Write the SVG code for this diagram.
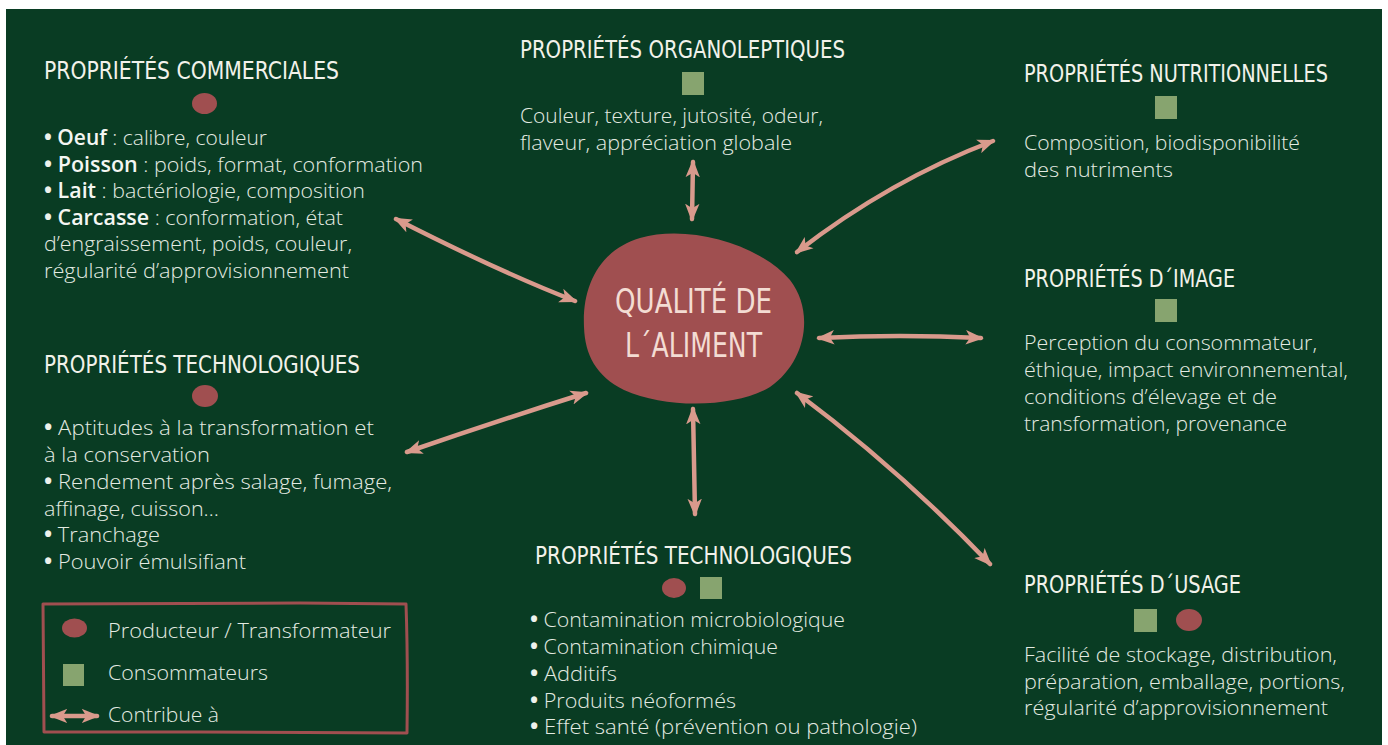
<svg xmlns="http://www.w3.org/2000/svg" width="1388" height="745" viewBox="0 0 1388 745">
<style>
.title{font-family:"Liberation Sans Narrow","DejaVu Sans Condensed","Liberation Sans",sans-serif;font-size:25px;fill:#f2f2ea;}
.body{font-family:"Open Sans","Lato","Liberation Sans",sans-serif;font-weight:300;font-size:21px;fill:#e4ebe2;}
.body .b{font-weight:600;fill:#f4f6f2;}
.body .bu{font-weight:700;fill:#eef2ec;}
.center{font-family:"Liberation Sans Narrow","DejaVu Sans Condensed","Liberation Sans",sans-serif;font-size:33px;fill:#f3dcd3;}
.dot{fill:#a04f50;}
.sq{fill:#87a46f;}
.conn{fill:none;stroke:#d99a8c;stroke-width:4.5;stroke-linecap:round;marker-start:url(#ah);marker-end:url(#ah);}
</style>
<defs>
<marker id="ah" viewBox="0 0 20 16" refX="17" refY="8" markerWidth="18" markerHeight="15" markerUnits="userSpaceOnUse" orient="auto-start-reverse">
<path d="M0,0 L20,8 L0,16 L5,8 Z" fill="#d99a8c"/>
</marker>
</defs>
<rect x="0" y="0" width="1388" height="745" fill="#ffffff"/>
<rect x="6" y="9" width="1376" height="736" fill="#093c23"/>

<g id="connectors">
<path class="conn" d="M396,219 Q500,272 575,301"/>
<path class="conn" d="M407,452 Q500,420 586,393"/>
<path class="conn" d="M693,162 L692,219"/>
<path class="conn" d="M797,252 Q890,180 993,141"/>
<path class="conn" d="M819,338 Q900,334 981,338"/>
<path class="conn" d="M797,393 Q900,470 990,564"/>
<path class="conn" d="M693,409 L695,514"/>
</g>

<g id="center">
<path d="M584,327 C582,285 600,250 640,238 C690,224 760,245 790,280 C815,312 806,362 770,387 C738,407 668,410 624,390 C596,376 585,355 584,327 Z" fill="#a04f50"/>
<text class="center" x="615" y="313" textLength="157" lengthAdjust="spacingAndGlyphs">QUALITÉ DE</text>
<text class="center" x="625" y="357" textLength="137" lengthAdjust="spacingAndGlyphs">L´ALIMENT</text>
</g>

<g id="commerciales">
<text class="title" x="44" y="79" textLength="295" lengthAdjust="spacingAndGlyphs">PROPRIÉTÉS COMMERCIALES</text>
<ellipse class="dot" cx="204.5" cy="103.5" rx="12.5" ry="10.5"/>
<text class="body" x="44" y="145" textLength="223" lengthAdjust="spacingAndGlyphs"><tspan class="bu">•</tspan> <tspan class="b">Oeuf</tspan> : calibre, couleur</text>
<text class="body" x="44" y="171.5" textLength="379" lengthAdjust="spacingAndGlyphs"><tspan class="bu">•</tspan> <tspan class="b">Poisson</tspan> : poids, format, conformation</text>
<text class="body" x="44" y="198" textLength="321" lengthAdjust="spacingAndGlyphs"><tspan class="bu">•</tspan> <tspan class="b">Lait</tspan> : bactériologie, composition</text>
<text class="body" x="44" y="224.5" textLength="299" lengthAdjust="spacingAndGlyphs"><tspan class="bu">•</tspan> <tspan class="b">Carcasse</tspan> : conformation, état</text>
<text class="body" x="44" y="251" textLength="308" lengthAdjust="spacingAndGlyphs">d’engraissement, poids, couleur,</text>
<text class="body" x="44" y="277.5" textLength="305" lengthAdjust="spacingAndGlyphs">régularité d’approvisionnement</text>
</g>

<g id="organoleptiques">
<text class="title" x="520" y="58" textLength="325" lengthAdjust="spacingAndGlyphs">PROPRIÉTÉS ORGANOLEPTIQUES</text>
<rect class="sq" x="682" y="72" width="22" height="23"/>
<text class="body" x="520" y="122.5" textLength="303" lengthAdjust="spacingAndGlyphs">Couleur, texture, jutosité, odeur,</text>
<text class="body" x="520" y="150" textLength="272" lengthAdjust="spacingAndGlyphs">flaveur, appréciation globale</text>
</g>

<g id="nutritionnelles">
<text class="title" x="1024" y="82" textLength="304" lengthAdjust="spacingAndGlyphs">PROPRIÉTÉS NUTRITIONNELLES</text>
<rect class="sq" x="1155" y="96" width="22" height="23"/>
<text class="body" x="1024" y="150" textLength="276" lengthAdjust="spacingAndGlyphs">Composition, biodisponibilité</text>
<text class="body" x="1024" y="176.5" textLength="149" lengthAdjust="spacingAndGlyphs">des nutriments</text>
</g>

<g id="image">
<text class="title" x="1024" y="287" textLength="211" lengthAdjust="spacingAndGlyphs">PROPRIÉTÉS D´IMAGE</text>
<rect class="sq" x="1155" y="299" width="22" height="23"/>
<text class="body" x="1024" y="350" textLength="293" lengthAdjust="spacingAndGlyphs">Perception du consommateur,</text>
<text class="body" x="1024" y="377" textLength="324" lengthAdjust="spacingAndGlyphs">éthique, impact environnemental,</text>
<text class="body" x="1024" y="404" textLength="253" lengthAdjust="spacingAndGlyphs">conditions d’élevage et de</text>
<text class="body" x="1024" y="431" textLength="263" lengthAdjust="spacingAndGlyphs">transformation, provenance</text>
</g>

<g id="usage">
<text class="title" x="1024" y="593" textLength="217" lengthAdjust="spacingAndGlyphs">PROPRIÉTÉS D´USAGE</text>
<rect class="sq" x="1134" y="609" width="23" height="23"/>
<ellipse class="dot" cx="1189" cy="620" rx="13" ry="11"/>
<text class="body" x="1024" y="662" textLength="313" lengthAdjust="spacingAndGlyphs">Facilité de stockage, distribution,</text>
<text class="body" x="1024" y="688.5" textLength="321" lengthAdjust="spacingAndGlyphs">préparation, emballage, portions,</text>
<text class="body" x="1024" y="715" textLength="304" lengthAdjust="spacingAndGlyphs">régularité d’approvisionnement</text>
</g>

<g id="technologiques-gauche">
<text class="title" x="44" y="373" textLength="316" lengthAdjust="spacingAndGlyphs">PROPRIÉTÉS TECHNOLOGIQUES</text>
<ellipse class="dot" cx="205" cy="396" rx="13" ry="11"/>
<text class="body" x="44" y="435" textLength="330" lengthAdjust="spacingAndGlyphs"><tspan class="bu">•</tspan> Aptitudes à la transformation et</text>
<text class="body" x="44" y="462" textLength="166" lengthAdjust="spacingAndGlyphs">à la conservation</text>
<text class="body" x="44" y="489" textLength="348" lengthAdjust="spacingAndGlyphs"><tspan class="bu">•</tspan> Rendement après salage, fumage,</text>
<text class="body" x="44" y="516" textLength="175" lengthAdjust="spacingAndGlyphs">affinage, cuisson…</text>
<text class="body" x="44" y="542" textLength="116" lengthAdjust="spacingAndGlyphs"><tspan class="bu">•</tspan> Tranchage</text>
<text class="body" x="44" y="569" textLength="202" lengthAdjust="spacingAndGlyphs"><tspan class="bu">•</tspan> Pouvoir émulsifiant</text>
</g>

<g id="technologiques-bas">
<text class="title" x="535" y="564" textLength="317" lengthAdjust="spacingAndGlyphs">PROPRIÉTÉS TECHNOLOGIQUES</text>
<ellipse class="dot" cx="674" cy="588" rx="12" ry="10"/>
<rect class="sq" x="700" y="577" width="22" height="22"/>
<text class="body" x="530" y="627" textLength="315" lengthAdjust="spacingAndGlyphs"><tspan class="bu">•</tspan> Contamination microbiologique</text>
<text class="body" x="530" y="654" textLength="248" lengthAdjust="spacingAndGlyphs"><tspan class="bu">•</tspan> Contamination chimique</text>
<text class="body" x="530" y="681" textLength="87" lengthAdjust="spacingAndGlyphs"><tspan class="bu">•</tspan> Additifs</text>
<text class="body" x="530" y="708" textLength="206" lengthAdjust="spacingAndGlyphs"><tspan class="bu">•</tspan> Produits néoformés</text>
<text class="body" x="530" y="734" textLength="387" lengthAdjust="spacingAndGlyphs"><tspan class="bu">•</tspan> Effet santé (prévention ou pathologie)</text>
</g>

<g id="legende">
<path d="M43,604 L300,603 L406,604 Q408,660 407,733 L200,732 L44,732 Z" fill="none" stroke="#a04f50" stroke-width="3" stroke-linejoin="round"/>
<ellipse class="dot" cx="74.5" cy="628" rx="12.5" ry="9.5"/>
<text class="body" x="108" y="638" textLength="283" lengthAdjust="spacingAndGlyphs">Producteur / Transformateur</text>
<rect class="sq" x="63" y="664" width="21" height="22"/>
<text class="body" x="108" y="680" textLength="160" lengthAdjust="spacingAndGlyphs">Consommateurs</text>
<path class="conn" d="M52,716 L97,716"/>
<text class="body" x="108" y="722" textLength="111" lengthAdjust="spacingAndGlyphs">Contribue à</text>
</g>
</svg>
